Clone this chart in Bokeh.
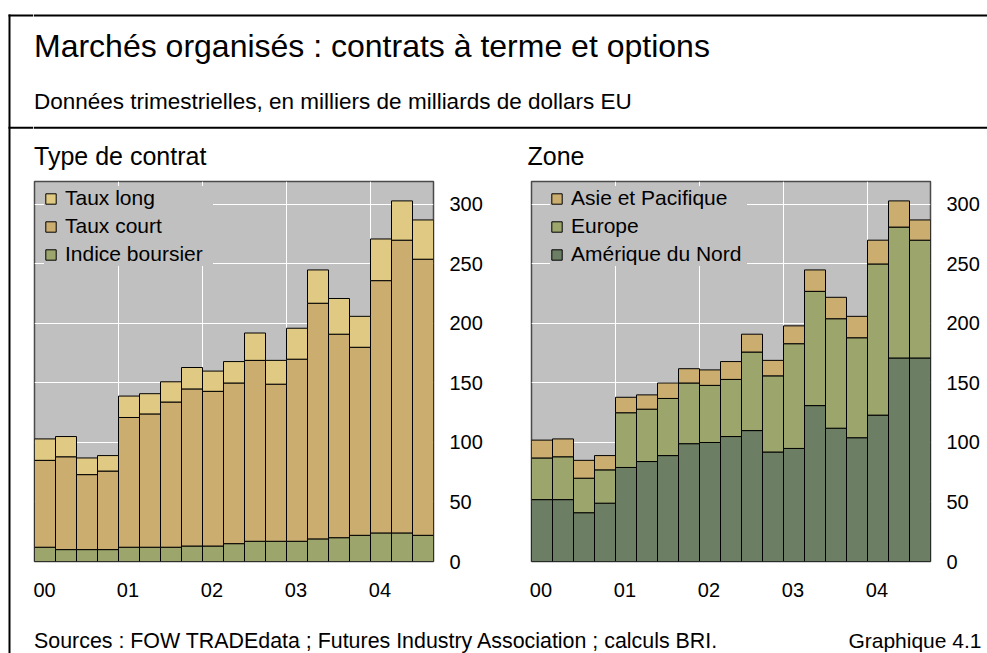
from bokeh.plotting import figure
from bokeh.models import Range1d, FixedTicker, Legend, LegendItem, ColumnDataSource
from bokeh.layouts import column, row
from bokeh.embed import file_html
from bokeh.resources import INLINE
from bokeh.core.properties import value
import numpy as np

FONT = "Liberation Sans"

# ---------------- data ----------------
quarters = ["2000T1", "2000T2", "2000T3", "2000T4",
            "2001T1", "2001T2", "2001T3", "2001T4",
            "2002T1", "2002T2", "2002T3", "2002T4",
            "2003T1", "2003T2", "2003T3", "2003T4",
            "2004T1", "2004T2", "2004T3"]
year_labels = ["00", "01", "02", "03", "04"]
y_ticks = [0, 50, 100, 150, 200, 250, 300]

# Type de contrat
indice_boursier = [12, 10, 10, 10, 12, 12, 12, 13, 13, 15, 17, 17, 17, 19, 20, 22, 24, 24, 22]
taux_court = [73, 78, 63, 66, 109, 112, 122, 132, 130, 135, 152, 132, 153, 198, 171, 158, 212, 246, 232]
taux_long = [18, 17, 14, 13, 18, 17, 17, 18, 17, 18, 23, 20, 26, 28, 30, 26, 35, 33, 33]

# Zone
amerique_du_nord = [52, 52, 41, 49, 79, 84, 89, 99, 100, 105, 110, 92, 95, 131, 112, 104, 123, 171, 171]
europe = [35, 36, 29, 28, 46, 44, 48, 51, 48, 48, 66, 64, 88, 96, 92, 84, 127, 110, 99]
asie_pacifique = [15, 15, 15, 12, 13, 12, 13, 12, 13, 15, 15, 13, 15, 18, 18, 18, 20, 22, 17]

C_LONG = "#E0C982"
C_COURT = "#CBAD70"
C_INDICE = "#9BA56C"
C_NA = "#6C7E63"
BG = "#C0C0C0"


def canvas(x0, x1, y0, y1):
    p = figure(width=x1 - x0, height=y1 - y0, x_range=Range1d(x0, x1),
               y_range=Range1d(y1, y0), toolbar_location=None,
               output_backend="svg", min_border=0, title=None,
               x_axis_type=None, y_axis_type=None,
               background_fill_color="white", border_fill_color="white",
               outline_line_color=None)
    p.xgrid.visible = False
    p.ygrid.visible = False
    return p


def txt(p, x, y, s, size, align="left"):
    p.text(x=[x], y=[y], text=[s], text_font=value(FONT), text_font_size=size,
           text_color="black", text_align=align, text_baseline="middle")


# ---------------- left margin, full height (frame corner and left line) ----------------
margin_left = canvas(0, 33, 0, 653)
margin_left.segment(x0=[8, 8, 9], y0=[15, 127.3, 14], x1=[33, 33, 9], y1=[15, 127.3, 653],
                    line_color="black", line_width=2)

# ---------------- header ----------------
header = canvas(33, 987, 0, 176)
header.segment(x0=[33, 33], y0=[15, 127.3], x1=[987, 987], y1=[15, 127.3],
               line_color="black", line_width=2)
txt(header, 33.5, 45, "Marchés organisés : contrats à terme et options", "32px")
txt(header, 33.5, 100.5, "Données trimestrielles, en milliers de milliards de dollars EU", "22.5px")
txt(header, 33.5, 155, "Type de contrat", "25px")
txt(header, 527, 155, "Zone", "25px")

# ---------------- footer ----------------
footer = canvas(33, 987, 610, 653)
txt(footer, 33.5, 640, "Sources : FOW TRADEdata ; Futures Industry Association ; calculs BRI.", "21.4px")
txt(footer, 981, 640, "Graphique 4.1", "21px", align="right")


def chart(width, left_border, right_border, names, series, colors, legend_x, label_width):
    x = np.arange(len(quarters)) + 0.5
    data = {"x": x}
    for n, s in zip(names, series):
        data[n] = s
    src = ColumnDataSource(data)
    p = figure(width=width, height=434, x_range=Range1d(0, len(quarters)),
               y_range=Range1d(0, 319.3), y_axis_location="right",
               toolbar_location=None, output_backend="svg", title=None,
               min_border_left=left_border, min_border_right=right_border,
               min_border_top=5, min_border_bottom=49,
               background_fill_color=BG, border_fill_color="white",
               outline_line_color="#4a4a4a", outline_line_width=1.5)
    rs = p.vbar_stack(names, x="x", width=1.0, source=src, fill_color=colors,
                      line_color="black", line_width=1)
    year_pos = [4 * i + 0.45 for i in range(len(year_labels))]
    p.xaxis.ticker = FixedTicker(ticks=year_pos)
    p.xaxis.major_label_overrides = {pos: lab for pos, lab in zip(year_pos, year_labels)}
    p.yaxis.ticker = FixedTicker(ticks=y_ticks)
    for ax in (p.xaxis, p.yaxis):
        ax.major_tick_line_color = None
        ax.minor_tick_line_color = None
        ax.major_tick_out = 0
        ax.major_tick_in = 0
        ax.minor_tick_out = 0
        ax.minor_tick_in = 0
        ax.axis_line_color = None
        ax.major_label_text_font = FONT
        ax.major_label_text_font_size = "20px"
        ax.major_label_text_color = "black"
    p.xaxis.major_label_standoff = 21
    p.yaxis.major_label_standoff = 16
    p.xgrid.ticker = FixedTicker(ticks=[4, 8, 12, 16])
    p.ygrid.ticker = FixedTicker(ticks=y_ticks[1:])
    p.grid.grid_line_color = "white"
    p.grid.grid_line_width = 1
    items = [LegendItem(label=n, renderers=[r]) for n, r in zip(names, rs)][::-1]
    leg = Legend(items=items, location=(legend_x, 295), background_fill_color=BG,
                 background_fill_alpha=1, border_line_color=None, padding=6,
                 spacing=4, glyph_width=13, glyph_height=13, label_standoff=8,
                 label_width=label_width, label_text_font=FONT,
                 label_text_font_size="21px", label_text_color="black", margin=0)
    p.add_layout(leg)
    return p


left = chart(474, 1, 74, ["Indice boursier", "Taux court", "Taux long"],
             [indice_boursier, taux_court, taux_long],
             [C_INDICE, C_COURT, C_LONG], 10, 148)
right = chart(480, 24, 57, ["Amérique du Nord", "Europe", "Asie et Pacifique"],
              [amerique_du_nord, europe, asie_pacifique],
              [C_NA, C_INDICE, C_COURT], 19, 176)

layout = row(margin_left, column(header, row(left, right), footer))
open("out.html", "w").write(file_html(layout, INLINE))
